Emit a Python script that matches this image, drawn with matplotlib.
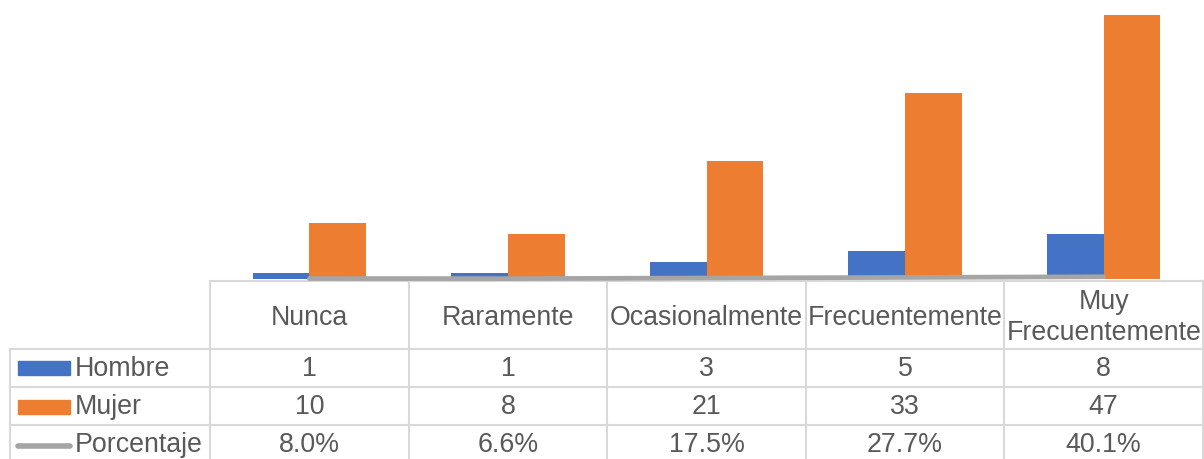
import numpy as np
import matplotlib
matplotlib.use('Agg')
import matplotlib.pyplot as plt
from matplotlib.patches import Rectangle

plt.rcParams['font.family'] = ['Liberation Sans', 'DejaVu Sans']

# Datos
categorias = ['Nunca', 'Raramente', 'Ocasionalmente', 'Frecuentemente', 'Muy\nFrecuentemente']
hombre = [1, 1, 3, 5, 8]
mujer = [10, 8, 21, 33, 47]
porcentaje = [0.080, 0.066, 0.175, 0.277, 0.401]
porcentaje_txt = ['8.0%', '6.6%', '17.5%', '27.7%', '40.1%']

c_hombre = '#4472C4'
c_mujer = '#ED7D31'
c_pct = '#A5A5A5'
c_grid = '#D9D9D9'
c_text = '#595959'
fs = 19.3

W, H = 1204, 460
fig = plt.figure(figsize=(W / 100, H / 100), dpi=100)

# tabla de datos (coordenadas en pixeles)
tax = fig.add_axes([0, 0, 1, 1], zorder=0)
tax.set_xlim(0, W)
tax.set_ylim(H, 0)
tax.axis('off')

x_left, x0, x1 = 10, 210, W - 1
col_w = (x1 - x0) / len(categorias)
y_head, y_rows = 282, [350, 388, 426, H + 2]

# lineas de la tabla
tax.plot([x0, x1], [y_head, y_head], color=c_grid, lw=1.5)
for y in y_rows[:-1]:
    tax.plot([x_left, x1], [y, y], color=c_grid, lw=1.5)
tax.plot([x_left, x_left], [y_rows[0], H], color=c_grid, lw=1.5)
for i in range(len(categorias) + 1):
    xv = x0 + i * col_w
    tax.plot([xv, xv], [y_head, H], color=c_grid, lw=1.5)

# encabezados
for i, cat in enumerate(categorias):
    tax.text(x0 + (i + 0.5) * col_w, (y_head + y_rows[0]) / 2 + 2, cat,
             ha='center', va='center', fontsize=fs, color=c_text, linespacing=1.25)

# filas
filas = [('Hombre', [str(v) for v in hombre]),
         ('Mujer', [str(v) for v in mujer]),
         ('Porcentaje', porcentaje_txt)]
for r, (nombre, vals) in enumerate(filas):
    yc = (y_rows[r] + y_rows[r + 1]) / 2 if r < 2 else 445
    tax.text(75, yc, nombre, ha='left', va='center', fontsize=fs, color=c_text)
    for i, v in enumerate(vals):
        tax.text(x0 + (i + 0.5) * col_w, yc, v, ha='center', va='center',
                 fontsize=fs, color=c_text)

# claves de leyenda
tax.add_patch(Rectangle((18, 362), 52, 14, color=c_hombre))
tax.add_patch(Rectangle((18, 401), 52, 14, color=c_mujer))
tax.plot([18, 70], [447, 447], color=c_pct, lw=4, solid_capstyle='round')

# grafico de barras
ax = fig.add_axes([x0 / W, (H - 280) / H, (x1 - x0) / W, 280 / H], zorder=1)
ax.patch.set_alpha(0)
x = np.arange(len(categorias))
bw = 0.285
ax.bar(x - bw / 2, hombre, bw, color=c_hombre)
ax.bar(x + bw / 2, mujer, bw, color=c_mujer)
ax.plot(x, porcentaje, color=c_pct, lw=3.4, solid_capstyle='round', clip_on=False, zorder=3)
ax.set_xlim(-0.5, len(categorias) - 0.5)
ax.set_ylim(0, 49.8)
ax.axis('off')

fig.savefig('out.png', dpi=100)
